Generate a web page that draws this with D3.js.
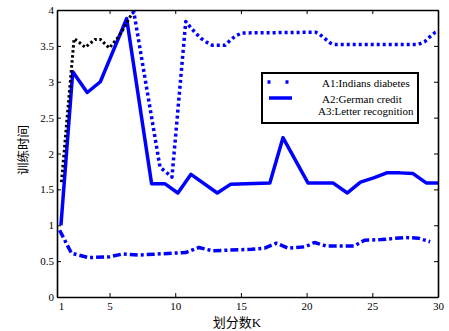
<!DOCTYPE html>
<html>
<head>
<meta charset="utf-8">
<title>训练时间</title>
<script src="https://d3js.org/d3.v7.min.js"></script>
<style>
  body { margin: 0; background: #fff; }
  text { font-family: "Liberation Serif", "Noto Sans CJK SC", serif; }
</style>
</head>
<body>
<script>

var w = 449, h = 331;
var padL = 57, padR = 438, padT = 10, padB = 297;

var xTicks = [1, 5, 10, 15, 20, 25, 30];
var yTicks = [0, 0.5, 1, 1.5, 2, 2.5, 3, 3.5, 4];
var names = ["A1:Indians diabetes", "A2:German credit", "A3:Letter recognition"];

// A1 - the first stretch of it is drawn black in the original
var kA1start = [1.34, 2.3, 2.55, 3.15, 3.9, 4.3, 4.98, 5.7, 6.1, 6.7];
var a1start  = [1.6, 3.6, 3.57, 3.48, 3.59, 3.59, 3.47, 3.63, 3.75, 3.95];
var kA1 = [6.7, 6.85, 8.84, 9.3, 9.75, 10.8, 11.2, 11.6, 12.0, 12.4, 12.8, 13.8, 14.2, 14.6, 15.1,
           20.7, 21.0, 21.4, 21.8, 22.1, 28.5, 29.0, 29.4, 29.8, 30];
var a1  = [3.95, 3.97, 1.81, 1.74, 1.67, 3.84, 3.75, 3.67, 3.6, 3.55, 3.51, 3.51, 3.58, 3.64, 3.68,
           3.69, 3.66, 3.6, 3.54, 3.52, 3.52, 3.56, 3.63, 3.69, 3.7];

var kA2 = [1.3, 2.2, 3.3, 4.3, 6.3, 8.2, 9.2, 10.2, 11.2, 13.2, 14.2, 17.2, 18.2, 20.1, 22.0,
           23.1, 24.1, 25.1, 26.1, 27.1, 28.1, 29.1, 30.0];
var a2  = [1.0, 3.14, 2.85, 3.0, 3.88, 1.58, 1.58, 1.45, 1.71, 1.45, 1.57, 1.59, 2.22, 1.59, 1.59,
           1.45, 1.60, 1.66, 1.73, 1.73, 1.72, 1.59, 1.59];

var kA3 = [1.2, 2.1, 3.4, 5.0, 6.0, 7.2, 10.8, 11.8, 12.8, 15.8, 16.8, 17.7, 18.6, 19.9, 20.6,
           21.5, 23.6, 24.4, 25.7, 27.5, 28.5, 29.4];
var a3  = [0.93, 0.61, 0.55, 0.56, 0.60, 0.585, 0.62, 0.69, 0.645, 0.665, 0.68, 0.75, 0.68, 0.70, 0.76,
           0.71, 0.71, 0.79, 0.80, 0.83, 0.82, 0.77];

var svg = d3.select("body").append("svg")
  .attr("width", w)
  .attr("height", h);

var x = d3.scaleLinear().domain([1, 30]).range([padL, padR]);
var y = d3.scaleLinear().domain([0, 4]).range([padB, padT]);

svg.append("clipPath").attr("id", "plot")
  .append("rect")
  .attr("x", padL).attr("y", padT)
  .attr("width", padR - padL).attr("height", padB - padT);

function pairs(ks, vs) {
  return ks.map(function(k, i){ return [k, vs[i]]; });
}

var line = d3.line()
  .x(function(d){ return x(d[0]); })
  .y(function(d){ return y(d[1]); });

var series = [
  {data: pairs(kA3, a3), color: "#0000ff", width: 3.5, dash: "8,3,3,3"},
  {data: pairs(kA2, a2), color: "#0000ff", width: 3.5, dash: null},
  {data: pairs(kA1start, a1start), color: "#000", width: 3, dash: "2.5,2.5"},
  {data: pairs(kA1, a1), color: "#0000ff", width: 3.5, dash: "3,3"}
];

var g = svg.append("g").attr("clip-path", "url(#plot)");
series.forEach(function(s){
  g.append("path")
    .attr("d", line(s.data))
    .attr("fill", "none")
    .attr("stroke", s.color)
    .attr("stroke-width", s.width)
    .attr("stroke-dasharray", s.dash)
    .attr("stroke-linejoin", "round");
});

// axes, ticks pointing inward
var gX = svg.append("g")
  .attr("transform", "translate(0," + padB + ")")
  .call(d3.axisBottom(x).tickValues(xTicks).tickSizeInner(-4).tickSizeOuter(0).tickPadding(5));
gX.selectAll("text").filter(function(d){ return d == 1; }).attr("dx", 4);

svg.append("g")
  .attr("transform", "translate(0," + padT + ")")
  .call(d3.axisTop(x).tickValues(xTicks).tickSizeInner(-4).tickSizeOuter(0).tickFormat(""));

svg.append("g")
  .attr("transform", "translate(" + padL + ",0)")
  .call(d3.axisLeft(y).tickValues(yTicks).tickSizeInner(-4).tickSizeOuter(0).tickPadding(3)
    .tickFormat(function(d){ return d; }));

svg.append("g")
  .attr("transform", "translate(" + padR + ",0)")
  .call(d3.axisRight(y).tickValues(yTicks).tickSizeInner(-4).tickSizeOuter(0).tickFormat(""));

svg.selectAll(".domain").attr("stroke", "#000").attr("stroke-width", 1.6);
svg.selectAll(".tick line").attr("stroke", "#000").attr("stroke-width", 1);
svg.selectAll(".tick text")
  .attr("font-family", "Liberation Serif")
  .attr("font-size", 11)
  .attr("fill", "#000");

// axis titles
svg.append("text")
  .attr("x", 237).attr("y", 327)
  .attr("text-anchor", "middle")
  .attr("font-size", 13)
  .text("划分数K");

svg.append("text")
  .attr("transform", "translate(24,150) rotate(-90)")
  .attr("text-anchor", "middle")
  .attr("dominant-baseline", "central")
  .attr("font-family", "Noto Sans CJK SC")
  .attr("font-size", 12.5)
  .text("训练时间");

// legend
var lg = svg.append("g");
lg.append("rect")
  .attr("x", 262).attr("y", 73)
  .attr("width", 156).attr("height", 50)
  .attr("fill", "#fff")
  .attr("stroke", "#000")
  .attr("stroke-width", 2);

lg.append("line")
  .attr("x1", 267.5).attr("x2", 289)
  .attr("y1", 82).attr("y2", 82)
  .attr("stroke", "#0000ff")
  .attr("stroke-width", 3.5)
  .attr("stroke-dasharray", "3,15");

lg.append("line")
  .attr("x1", 269).attr("x2", 292)
  .attr("y1", 98).attr("y2", 98)
  .attr("stroke", "#0000ff")
  .attr("stroke-width", 3.5);

var legendPos = [[322, 87], [322, 103], [318, 115]];
names.forEach(function(n, i){
  lg.append("text")
    .attr("x", legendPos[i][0]).attr("y", legendPos[i][1])
    .attr("font-size", 11)
    .text(n);
});

</script>
</body>
</html>
